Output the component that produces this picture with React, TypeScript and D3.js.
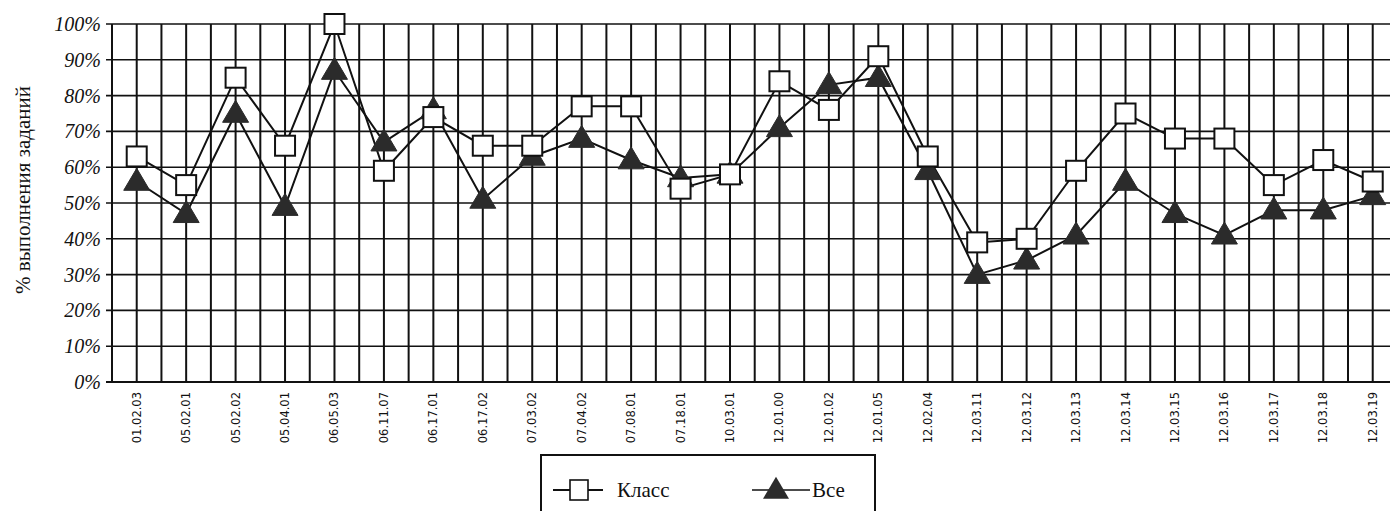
import React from "react";
import * as d3 from "d3";

const categories = ["01.02.03","05.02.01","05.02.02","05.04.01","06.05.03","06.11.07","06.17.01","06.17.02","07.03.02","07.04.02","07.08.01","07.18.01","10.03.01","12.01.00","12.01.02","12.01.05","12.02.04","12.03.11","12.03.12","12.03.13","12.03.14","12.03.15","12.03.16","12.03.17","12.03.18","12.03.19"];
const klass = [63,55,85,66,100,59,74,66,66,77,77,54,58,84,76,91,63,39,40,59,75,68,68,55,62,56];
const vse = [56,47,75,49,87,67,76,51,63,68,62,57,58,71,83,85,59,30,34,41,56,47,41,48,48,52];
const yTicks = [0,10,20,30,40,50,60,70,80,90,100];

export default function App() {
  const W = 1390, H = 511;
  const x0 = 112, x1 = 112 + 26 * 49.44;
  const yTop = 24, yBot = 382;
  const x = d3.scaleBand<string>().domain(categories).range([x0, x1]).padding(0);
  const y = d3.scaleLinear().domain([0, 100]).range([yBot, yTop]);
  const cx = (c: string) => (x(c) as number) + x.bandwidth() / 2;
  const line = d3.line<number>().x((_, i) => cx(categories[i])).y(d => y(d));
  const vlines: number[] = [];
  categories.forEach(c => { vlines.push(x(c) as number); vlines.push(cx(c)); });
  vlines.push(x1);
  const sq = 20;
  const tri = (px: number, py: number) => {
    const w = 26, h = 22;
    return `M${px},${py - h * 0.6}L${px + w / 2},${py + h * 0.4}L${px - w / 2},${py + h * 0.4}Z`;
  };
  return (
    <svg width={W} height={H} style={{ display: "block", position: "absolute", left: 0, top: 0 }}>
      <rect width={W} height={H} fill="#fff" />
      {yTicks.map(t => (
        <line key={"h" + t} x1={x0 - 6} x2={x1} y1={y(t)} y2={y(t)} stroke="#111" strokeWidth={t === 0 ? 2 : 1.6} />
      ))}
      {vlines.map((v, i) => (
        <line key={"v" + i} x1={v} x2={v} y1={yTop} y2={yBot} stroke="#111" strokeWidth={2} />
      ))}
      {yTicks.map(t => (
        <text key={"yl" + t} x={101} y={y(t) + 7} textAnchor="end" fontFamily="Liberation Serif" fontStyle="italic" fontSize={20} fill="#111">{t}%</text>
      ))}
      <text transform="translate(30,190) rotate(-90)" textAnchor="middle" fontFamily="Liberation Serif" fontSize={21} fill="#111">% выполнения заданий</text>
      {categories.map(c => (
        <text key={"xl" + c} transform={`translate(${cx(c) + 4},${yBot + 10}) rotate(-90)`} textAnchor="end" fontFamily="DejaVu Sans" fontSize={11.5} fill="#111">{c}</text>
      ))}
      <path d={line(vse) || ""} fill="none" stroke="#111" strokeWidth={2} />
      <path d={line(klass) || ""} fill="none" stroke="#111" strokeWidth={2} />
      {vse.map((v, i) => (
        <path key={"t" + i} d={tri(cx(categories[i]), y(v))} fill="#2b2b2b" stroke="#2b2b2b" strokeWidth={1} />
      ))}
      {klass.map((v, i) => (
        <rect key={"s" + i} x={cx(categories[i]) - sq / 2} y={y(v) - sq / 2} width={sq} height={sq} fill="#fff" stroke="#111" strokeWidth={2} />
      ))}
      <rect x={541} y={455} width={334} height={70} fill="#fff" stroke="#111" strokeWidth={2} />
      <line x1={553} x2={603} y1={490} y2={490} stroke="#111" strokeWidth={2} />
      <rect x={570} y={480} width={18} height={20} fill="#fff" stroke="#111" strokeWidth={1.6} />
      <text x={617} y={497} fontFamily="Liberation Serif" fontSize={21} fill="#111">Класс</text>
      <line x1={752} x2={810} y1={490} y2={490} stroke="#111" strokeWidth={1.5} />
      <path d={tri(776, 490)} fill="#2b2b2b" />
      <text x={812} y={497} fontFamily="Liberation Serif" fontSize={21} fill="#111">Все</text>
    </svg>
  );
}
